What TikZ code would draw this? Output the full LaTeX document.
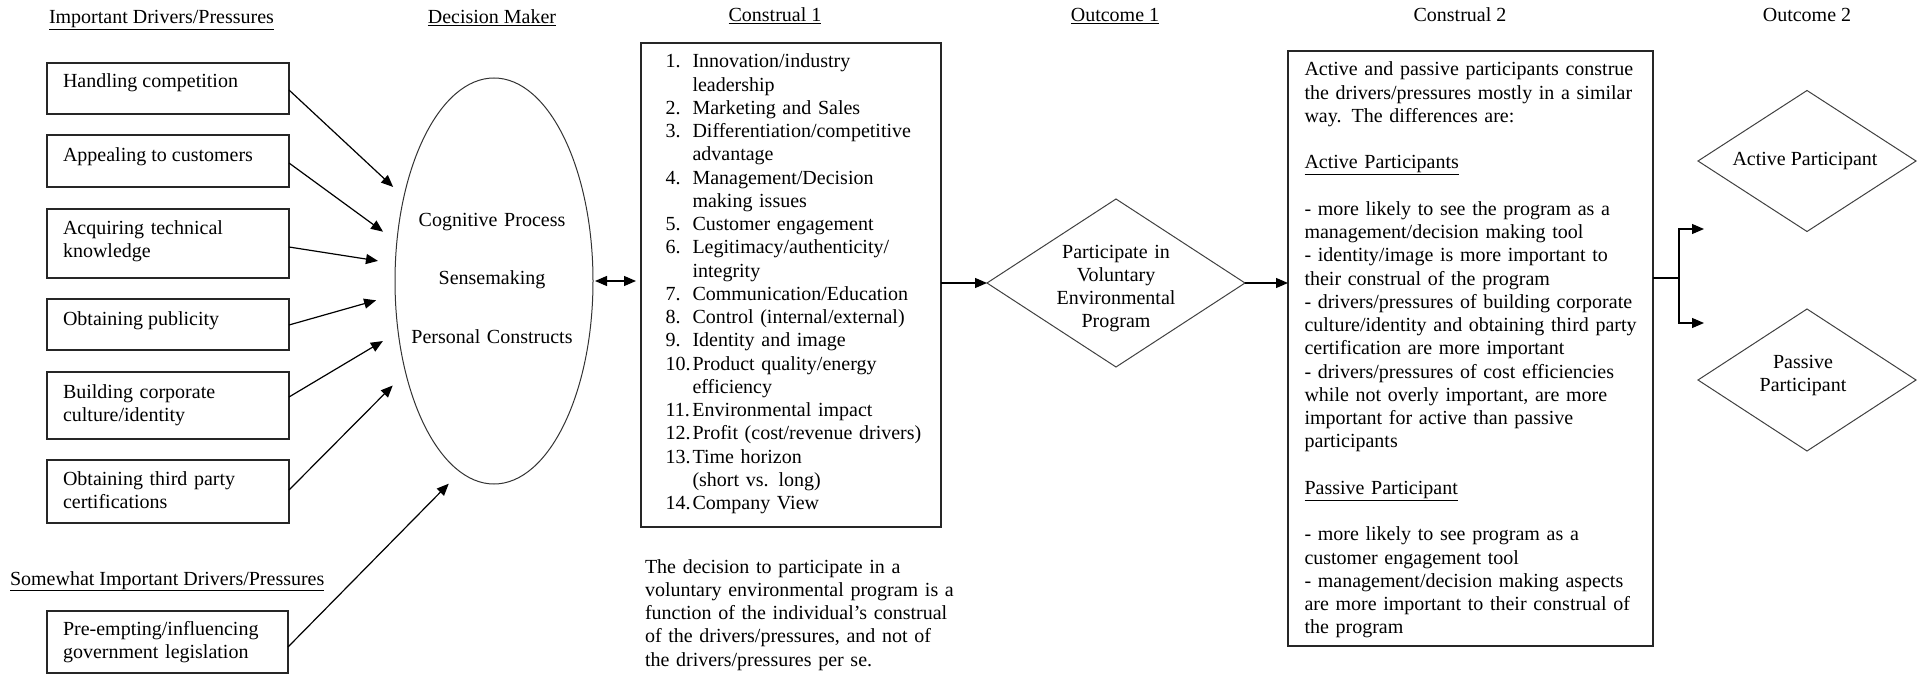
\documentclass[tikz,border=0pt]{standalone}
\usepackage{fontspec}
\setmainfont{Liberation Serif}
\usetikzlibrary{shapes.geometric,arrows.meta}
\newcommand\dtxt{\fontsize{20}{23.25}\selectfont\lineskiplimit=-100pt\relax}
\newcommand\nm[1]{\makebox[27pt][l]{#1}}
\newcommand\ind{\hspace*{27pt}}
\begin{document}
\begin{tikzpicture}[x=1pt,y=-1pt,
  boxsh/.style={draw=black!85, line width=1.1pt, rectangle, inner sep=0pt, outer sep=0pt},
  diam/.style={draw=black!75, line width=1pt, diamond, inner sep=0pt, outer sep=0pt},
  lbl/.style={font=\dtxt, inner sep=0pt, outer sep=0pt},
  para/.style={lbl, align=left},
  cpara/.style={lbl, align=center},
  arr/.style={line width=1.2pt, -{Triangle[length=12pt,width=10pt]}},
  arrtwo/.style={line width=1.2pt, {Triangle[length=12pt,width=10pt]}-{Triangle[length=12pt,width=10pt]}}
]
\useasboundingbox (0,0) rectangle (1920,674);

% headings
\node[lbl, anchor=base west] (h1) at (49,24) {\underline{Important Drivers/Pressures}};
\node[lbl, anchor=base] (h2) at (492,24) {\underline{Decision Maker}};
\node[lbl, anchor=base] (h3) at (775,22) {\underline{Construal 1}};
\node[lbl, anchor=base] (h4) at (1115,22) {\underline{Outcome 1}};
\node[lbl, anchor=base] (h5) at (1460,22) {Construal 2};
\node[lbl, anchor=base] (h6) at (1807,22) {Outcome 2};
\node[lbl, anchor=base west] (h7) at (10,585) {\underline{Somewhat Important Drivers/Pressures}};

% driver boxes
\node[boxsh, minimum width=242pt, minimum height=51pt] (b1) at (168,88.5) {};
\node[boxsh, minimum width=242pt, minimum height=52pt] (b2) at (168,161) {};
\node[boxsh, minimum width=242pt, minimum height=69pt] (b3) at (168,243.5) {};
\node[boxsh, minimum width=242pt, minimum height=51pt] (b4) at (168,324.5) {};
\node[boxsh, minimum width=242pt, minimum height=67pt] (b5) at (168,405.5) {};
\node[boxsh, minimum width=242pt, minimum height=63pt] (b6) at (168,491.5) {};
\node[boxsh, minimum width=241pt, minimum height=62pt] (b7) at (167.5,642) {};

\node[lbl, anchor=base west] (b1t) at (63,88) {Handling competition};
\node[lbl, anchor=base west] (b2t) at (63,162) {Appealing to customers};
\node[para, text width=220pt, anchor=base west] (b3t) at (63,234) {Acquiring technical\\knowledge};
\node[lbl, anchor=base west] (b4t) at (63,325) {Obtaining publicity};
\node[para, text width=220pt, anchor=base west] (b5t) at (63,398) {Building corporate\\culture/identity};
\node[para, text width=220pt, anchor=base west] (b6t) at (63,485) {Obtaining third party\\certifications};
\node[para, text width=220pt, anchor=base west] (b7t) at (63,635) {Pre-empting/influencing\\government legislation};

% decision maker
\node[draw=black!80, line width=1pt, ellipse, minimum width=198pt, minimum height=406pt, inner sep=0pt, outer sep=0pt] (ell) at (494,281) {};
\node[cpara, text width=180pt, anchor=base] (ellt) at (492,226) {Cognitive Process\\[35.25pt]Sensemaking\\[35.25pt]Personal Constructs};

% construal 1
\node[boxsh, minimum width=300pt, minimum height=484pt] (c1) at (791,285) {};
\node[para, text width=270pt, anchor=base west] (c1t) at (665.5,68) {\nm{1.}Innovation/industry\\
\ind leadership\\
\nm{2.}Marketing and Sales\\
\nm{3.}Differentiation/competitive\\
\ind advantage\\
\nm{4.}Management/Decision\\
\ind making issues\\
\nm{5.}Customer engagement\\
\nm{6.}Legitimacy/authenticity/\\
\ind integrity\\
\nm{7.}Communication/Education\\
\nm{8.}Control (internal/external)\\
\nm{9.}Identity and image\\
\nm{10.}Product quality/energy\\
\ind efficiency\\
\nm{11.}Environmental impact\\
\nm{12.}Profit (cost/revenue drivers)\\
\nm{13.}Time horizon\\
\ind (short vs. long)\\
\nm{14.}Company View};

\node[para, text width=340pt, anchor=base west] (note) at (645,573) {The decision to participate in a\\voluntary environmental program is a\\function of the individual’s construal\\of the drivers/pressures, and not of\\the drivers/pressures per se.};

% outcome 1
\node[diam, minimum width=258pt, minimum height=168pt] (d1) at (1116,283) {};
\node[cpara, text width=150pt, anchor=base] (d1t) at (1116,258) {Participate in\\Voluntary\\Environmental\\Program};

% construal 2
\node[boxsh, minimum width=365pt, minimum height=595pt] (c2) at (1470.5,348.5) {};
\node[para, text width=360pt, anchor=base west] (c2t) at (1304.5,76) {Active and passive participants construe\\
the drivers/pressures mostly in a similar\\
way. The differences are:\\[23.25pt]
\underline{Active Participants}\\[23.25pt]
- more likely to see the program as a\\
management/decision making tool\\
- identity/image is more important to\\
their construal of the program\\
- drivers/pressures of building corporate\\
culture/identity and obtaining third party\\
certification are more important\\
- drivers/pressures of cost efficiencies\\
while not overly important, are more\\
important for active than passive\\
participants\\[23.25pt]
\underline{Passive Participant}\\[23.25pt]
- more likely to see program as a\\
customer engagement tool\\
- management/decision making aspects\\
are more important to their construal of\\
the program};

% outcome 2
\node[diam, minimum width=218pt, minimum height=141pt] (da) at (1807,161) {};
\node[lbl, anchor=base] (dat) at (1805,166) {Active Participant};
\node[diam, minimum width=218pt, minimum height=142pt] (dp) at (1807,380) {};
\node[cpara, text width=150pt, anchor=base] (dpt) at (1803,368) {Passive\\Participant};

% connectors
\draw[arr, shorten >=14.7pt] (b1.east |- 0,90) -- (ell.137.4);
\draw[arr, shorten >=17.1pt] (b2.east |- 0,163) -- (ell.158.8);
\draw[arr, shorten >=17.6pt] (b3.east |- 0,247) -- (ell.170.7);
\draw[arr, shorten >=19.9pt] (b4.east |- 0,325) -- (ell.188.5);
\draw[arr, shorten >=17.8pt] (b5.east |- 0,397) -- (ell.208.5);
\draw[arr, shorten >=18.3pt] (b6.east |- 0,490) -- (ell.226.6);
\draw[arr, shorten >=16.5pt] (b7.east |- 0,647) -- (ell.260.8);

\draw[arrtwo, shorten <=2pt, shorten >=5pt] (ell.east) -- (ell.east -| c1.west);
\draw[arr] (d1.west -| c1.east) -- (d1.west);
\draw[arr] (d1.east) -- (d1.east -| c2.west);

\coordinate (fork) at (1679,278);
\coordinate (fa) at (1704,229);
\coordinate (fp) at (1704,323);
\draw[line width=1.2pt] (fork -| c2.east) -- (fork);
\draw[arr] (fork) |- (fa);
\draw[arr] (fork) |- (fp);
\end{tikzpicture}
\end{document}
